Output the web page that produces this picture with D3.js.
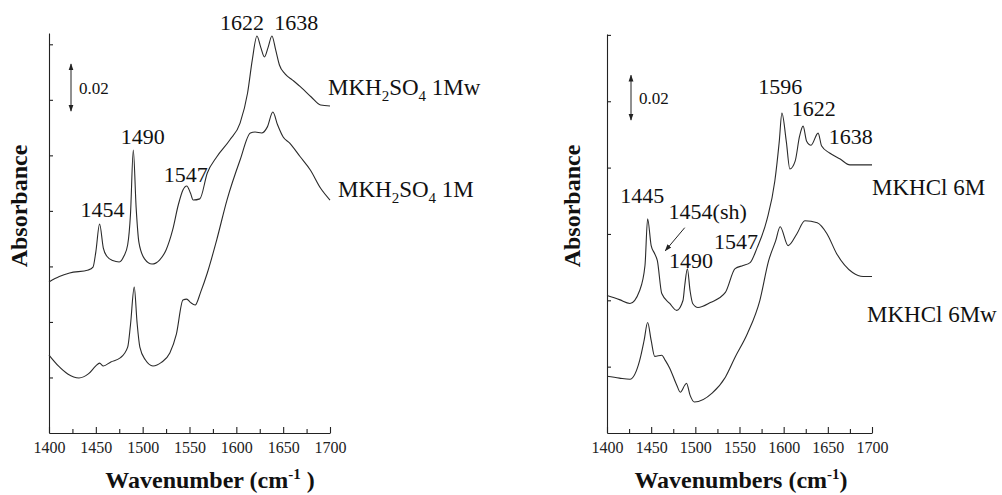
<!DOCTYPE html>
<html>
<head>
<meta charset="utf-8">
<script src="https://cdn.jsdelivr.net/npm/d3@7"></script>
<style>
  body { margin: 0; background: #fff; }
  .curve { fill: none; stroke: #2a2a2a; stroke-width: 1.1; }
  .axis path, .axis line { stroke: #222; stroke-width: 1.1; }
</style>
</head>
<body>
<svg id="chart" width="1002" height="495"></svg>
<script>
// spectra: [wavenumber cm-1, absorbance]
const h2so4_1Mw = [
  [1400, 0.0642], [1411, 0.0665], [1422, 0.0680], [1442, 0.0693], [1447, 0.0705],
  [1450, 0.0770], [1454, 0.0888], [1458, 0.0786], [1462, 0.0750], [1468, 0.0733],
  [1475, 0.0727], [1480, 0.0752], [1484, 0.0800], [1487, 0.0930], [1490, 0.1203],
  [1493, 0.0960], [1496, 0.0810], [1502, 0.0740], [1510, 0.0718], [1518, 0.0735],
  [1525, 0.0778], [1532, 0.0863], [1538, 0.0969], [1543, 0.1033], [1547, 0.1050],
  [1551, 0.1020], [1554, 0.0990], [1561, 0.0995], [1569, 0.1105], [1579, 0.1173],
  [1593, 0.1245], [1604, 0.1317], [1612, 0.1445], [1617, 0.1585], [1622, 0.1687],
  [1626, 0.1640], [1630, 0.1598], [1634, 0.1640], [1638, 0.1687], [1642, 0.1628],
  [1646, 0.1564], [1652, 0.1526], [1660, 0.1500], [1670, 0.1466], [1680, 0.1428],
  [1690, 0.1394], [1700, 0.1390]
]
const h2so4_1M = [
  [1400, 0.0331], [1410, 0.0285], [1420, 0.0251], [1432, 0.0234], [1442, 0.0251],
  [1450, 0.0285], [1454, 0.0297], [1458, 0.0285], [1466, 0.0302], [1476, 0.0319],
  [1484, 0.0365], [1487, 0.0460], [1491, 0.0620], [1494, 0.0470], [1497, 0.0365],
  [1503, 0.0310], [1511, 0.0285], [1520, 0.0300], [1529, 0.0340], [1536, 0.0420],
  [1543, 0.0565], [1547, 0.0569], [1551, 0.0555], [1556, 0.0544], [1562, 0.0600],
  [1569, 0.0680], [1579, 0.0820], [1590, 0.0990], [1604, 0.1160], [1615, 0.1275],
  [1620, 0.1279], [1627, 0.1275], [1633, 0.1300], [1639, 0.1364], [1644, 0.1310],
  [1650, 0.1258], [1657, 0.1232], [1668, 0.1175], [1679, 0.1118], [1690, 0.1040],
  [1700, 0.0990]
]
const hcl_6M = [
  [1400, 0.0613], [1414, 0.0595], [1426, 0.0578], [1437, 0.0636], [1443, 0.0747],
  [1446, 0.0956], [1450, 0.0836], [1454, 0.0800], [1457, 0.0769], [1462, 0.0622],
  [1471, 0.0578], [1479, 0.0547], [1486, 0.0591], [1488, 0.0658], [1491, 0.0733],
  [1494, 0.0636], [1497, 0.0578], [1503, 0.0560], [1517, 0.0582], [1534, 0.0627],
  [1545, 0.0733], [1554, 0.0747], [1562, 0.0760], [1570, 0.0827], [1581, 0.0951],
  [1590, 0.1124], [1595, 0.1300], [1598, 0.1427], [1603, 0.1300], [1607, 0.1178],
  [1613, 0.1213], [1618, 0.1324], [1622, 0.1369], [1626, 0.1302], [1631, 0.1284],
  [1639, 0.1338], [1643, 0.1280], [1652, 0.1249], [1664, 0.1222], [1675, 0.1196],
  [1700, 0.1196]
]
const hcl_6Mw = [
  [1400, 0.0253], [1414, 0.0245], [1426, 0.0240], [1437, 0.0324], [1442, 0.0413],
  [1446, 0.0493], [1450, 0.0413], [1454, 0.0342], [1462, 0.0347], [1466, 0.0324],
  [1471, 0.0289], [1479, 0.0213], [1483, 0.0182], [1488, 0.0213], [1490, 0.0222],
  [1494, 0.0169], [1499, 0.0138], [1519, 0.0178], [1534, 0.0249], [1545, 0.0338],
  [1559, 0.0444], [1573, 0.0591], [1583, 0.0769], [1591, 0.0858], [1596, 0.0920],
  [1605, 0.0836], [1615, 0.0889], [1624, 0.0947], [1638, 0.0938], [1649, 0.0889],
  [1660, 0.0800], [1678, 0.0716], [1690, 0.0698], [1700, 0.0698]
]

const majorTicks = [1400, 1450, 1500, 1550, 1600, 1650, 1700]
const minorTicks = [1425, 1475, 1525, 1575, 1625, 1675]
const leftYTicks = [0.0236, 0.0472, 0.0708, 0.0944, 0.1180, 0.1416, 0.1652]
const rightYTicks = [0.0296, 0.0592, 0.0888, 0.1184, 0.1480, 0.1776]

// peak labels: [text, wavenumber, absorbance] (text centre / baseline)
const leftPeaks = [
  ['1622', 1606, 0.1712], ['1638', 1664, 0.1712], ['1490', 1500, 0.1228],
  ['1547', 1546, 0.1066], ['1454', 1457, 0.0918]
]
const rightPeaks = [
  ['1596', 1596, 0.1511], ['1622', 1634, 0.1413], ['1638', 1676, 0.1289],
  ['1445', 1440, 0.1027], ['1454(sh)', 1514, 0.0956], ['1547', 1546, 0.0822],
  ['1490', 1495, 0.0738]
]

const FONT = '"Liberation Serif", "Times New Roman", "DejaVu Serif", serif'
const svg = d3.select('#chart').attr('font-family', FONT)

svg.append('defs').append('marker')
  .attr('id', 'head').attr('viewBox', '0 0 10 10').attr('refX', 9).attr('refY', 5)
  .attr('markerWidth', 7).attr('markerHeight', 7).attr('orient', 'auto-start-reverse')
  .append('path').attr('d', 'M0,1.5 L10,5 L0,8.5 Z').attr('fill', '#222')

function drawPanel(p) {
  const x = d3.scaleLinear().domain([1400, 1700]).range([p.x0, p.x1])
  const y = d3.scaleLinear().domain([0, p.yMax]).range([433, p.yTop])
  const g = svg.append('g')

  // x axis: labelled ticks every 50, small ones in between
  g.append('g').attr('class', 'axis').attr('transform', 'translate(0,433)')
    .call(d3.axisBottom(x).tickValues(majorTicks).tickFormat(d3.format('d'))
      .tickSizeInner(-6).tickSizeOuter(0).tickPadding(9))
    .attr('font-family', FONT).attr('font-size', 16)
    .call(a => a.selectAll('text').attr('fill', '#222'))
  g.append('g').attr('class', 'axis').attr('transform', 'translate(0,433)')
    .call(d3.axisBottom(x).tickValues(minorTicks).tickSizeInner(-4).tickSizeOuter(0).tickFormat(''))
    .call(a => a.select('.domain').remove())

  g.append('g').attr('class', 'axis').attr('transform', `translate(${p.x0},0)`)
    .call(d3.axisLeft(y).tickValues(p.yTicks).tickSizeInner(-4).tickSizeOuter(0).tickFormat(''))

  const line = d3.line().x(d => x(d[0])).y(d => y(d[1])).curve(d3.curveMonotoneX)
  p.series.forEach(s => g.append('path').attr('class', 'curve').attr('d', line(s)))

  p.peaks.forEach(([t, wn, a]) => {
    g.append('text').attr('x', x(wn)).attr('y', y(a)).attr('text-anchor', 'middle')
      .attr('font-size', 22).attr('fill', '#111').text(t)
  })

  // 0.02 scale bar
  g.append('line').attr('x1', p.barX).attr('x2', p.barX)
    .attr('y1', y(p.barTop)).attr('y2', y(p.barTop - 0.02))
    .attr('stroke', '#222').attr('stroke-width', 1)
    .attr('marker-start', 'url(#head)').attr('marker-end', 'url(#head)')
  g.append('text').attr('x', p.barX + 8).attr('y', y(p.barTop - 0.01) + 6)
    .attr('font-size', 17).attr('fill', '#111').text('0.02')

  g.append('text').attr('transform', `translate(${p.yLabelX},206) rotate(-90)`)
    .attr('text-anchor', 'middle').attr('font-size', 24).attr('font-weight', 'bold')
    .attr('fill', '#111').text('Absorbance')

  const xt = g.append('text').attr('x', p.xLabelX).attr('y', 488).attr('text-anchor', 'middle')
    .attr('font-size', 24).attr('font-weight', 'bold').attr('fill', '#111')
  xt.append('tspan').text(p.xTitle + ' (cm')
  xt.append('tspan').attr('dy', -9).attr('font-size', 15).text('-1')
  xt.append('tspan').attr('dy', 9).text(p.xTitleEnd)
  return { x, y, g }
}

const left = drawPanel({
  x0: 49, x1: 330, yTop: 33, yMax: 0.17, yTicks: leftYTicks,
  series: [h2so4_1Mw, h2so4_1M], peaks: leftPeaks,
  barX: 71, barTop: 0.1568, yLabelX: 27, xLabelX: 210,
  xTitle: 'Wavenumber', xTitleEnd: ' )'
})
const right = drawPanel({
  x0: 607, x1: 872, yTop: 34, yMax: 0.178, yTicks: rightYTicks,
  series: [hcl_6M, hcl_6Mw], peaks: rightPeaks,
  barX: 631, barTop: 0.1596, yLabelX: 580, xLabelX: 741,
  xTitle: 'Wavenumbers', xTitleEnd: ')'
})

// sample names with sub/superscripts
function sulfateLabel(x, y, suffix) {
  const t = svg.append('text').attr('x', x).attr('y', y).attr('font-size', 23).attr('fill', '#111')
  t.append('tspan').text('MKH')
  t.append('tspan').attr('dy', 6).attr('font-size', 15).text('2')
  t.append('tspan').attr('dy', -6).text('SO')
  t.append('tspan').attr('dy', 6).attr('font-size', 15).text('4')
  t.append('tspan').attr('dy', -6).text(' ' + suffix)
}
sulfateLabel(328, 95, '1Mw')
sulfateLabel(338, 197, '1M')
svg.append('text').attr('x', 872).attr('y', 195).attr('font-size', 23).attr('fill', '#111').text('MKHCl 6M')
svg.append('text').attr('x', 867).attr('y', 322).attr('font-size', 23).attr('fill', '#111').text('MKHCl 6Mw')

// arrow pointing at the 1454 shoulder
right.g.append('line')
  .attr('x1', right.x(1488)).attr('y1', right.y(0.0916))
  .attr('x2', right.x(1466)).attr('y2', right.y(0.0813))
  .attr('stroke', '#222').attr('stroke-width', 1).attr('marker-end', 'url(#head)')
</script>
</body>
</html>
